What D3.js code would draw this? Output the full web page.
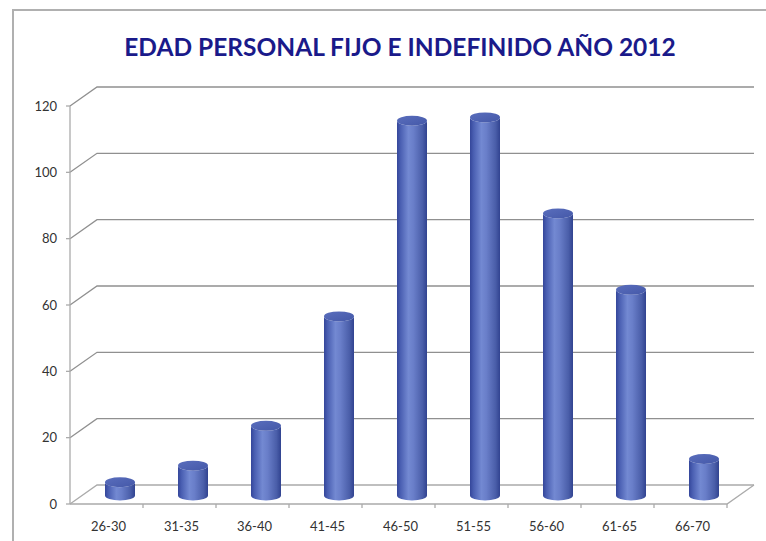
<!DOCTYPE html>
<html>
<head>
<meta charset="utf-8">
<script src="https://cdn.jsdelivr.net/npm/d3@7"></script>
<style>
  html, body { margin: 0; padding: 0; background: #fff; }
  svg { display: block; }
</style>
</head>
<body>
<script>
const categories = ["26-30","31-35","36-40","41-45","46-50","51-55","56-60","61-65","66-70"];
const values = [4, 9, 21, 54, 113, 114, 85, 62, 11];
const yTicks = [0, 20, 40, 60, 80, 100, 120];
const title = "EDAD PERSONAL FIJO E INDEFINIDO AÑO 2012";

const W = 766, H = 541;
const svg = d3.select("body").append("svg").attr("width", W).attr("height", H);

// depth offset for 3D walls
const DX = 27, DY = -19;

const x = d3.scaleBand().domain(categories).range([70, 727]).paddingInner(0).paddingOuter(0);
const y = d3.scaleLinear().domain([0, 120]).range([504, 106]);

// gradient for cylinders
const defs = svg.append("defs");
const g1 = defs.append("linearGradient").attr("id", "cyl").attr("x1", "0").attr("x2", "1").attr("y1", "0").attr("y2", "0");
[[0, "#34469a"], [0.12, "#4a5fb2"], [0.38, "#7389d2"], [0.55, "#697ec9"], [0.85, "#4a5ea9"], [1, "#314390"]]
  .forEach(([o, c]) => g1.append("stop").attr("offset", o).attr("stop-color", c));
const g2 = defs.append("linearGradient").attr("id", "cyltop").attr("x1", "0").attr("x2", "1").attr("y1", "0").attr("y2", "1");
[[0, "#5a6ebd"], [1, "#4458a8"]].forEach(([o, c]) => g2.append("stop").attr("offset", o).attr("stop-color", c));

// outer chart border (left and top)
svg.append("path").attr("d", `M13,${H} L13,10 L${W},10`)
  .attr("fill", "none").attr("stroke", "#b0b0b0").attr("stroke-width", 2);

// title
svg.append("text").text(title)
  .attr("x", 400).attr("y", 56).attr("text-anchor", "middle")
  .attr("font-family", "Lato, 'Open Sans', sans-serif").attr("font-weight", "bold")
  .attr("font-size", 24.5).attr("fill", "#1a1a8a");

const grid = svg.append("g").attr("stroke-width", 1.3).attr("fill", "none");
const x0 = x.range()[0], x1 = x.range()[1];

// back-wall gridlines and side-wall diagonals
yTicks.forEach(t => {
  const yy = y(t);
  grid.append("path").attr("d", `M${x0},${yy} L${x0 + DX},${yy + DY} L${x1 + DX},${yy + DY}`)
    .attr("stroke", t === 0 ? "#ababab" : "#909090");
});

// floor front edge and right diagonal
grid.append("path").attr("d", `M${x0},${y(0)} L${x1},${y(0)} L${x1 + DX},${y(0) + DY}`).attr("stroke", "#ababab");

// y axis line
grid.append("line").attr("x1", x0).attr("x2", x0).attr("y1", y(120)).attr("y2", y(0)).attr("stroke", "#ababab");

// y ticks + labels
const yAxisG = svg.append("g");
yTicks.forEach(t => {
  yAxisG.append("line").attr("x1", x0 - 4).attr("x2", x0).attr("y1", y(t)).attr("y2", y(t))
    .attr("stroke", "#ababab").attr("stroke-width", 1.3);
  yAxisG.append("text").text(t).attr("x", 57).attr("y", y(t) + 4.5).attr("text-anchor", "end")
    .attr("font-family", "Lato, 'Open Sans', sans-serif").attr("font-size", 13).attr("fill", "#333");
});

// x ticks at category boundaries + labels
const xAxisG = svg.append("g");
categories.forEach((c, i) => {
  if (i > 0) {
    const bx = x(c);
    xAxisG.append("line").attr("x1", bx).attr("x2", bx).attr("y1", y(0)).attr("y2", y(0) + 4)
      .attr("stroke", "#ababab").attr("stroke-width", 1.3);
  }
  xAxisG.append("text").text(c).attr("x", x(c) + x.bandwidth() / 2 + 2).attr("y", 531)
    .attr("text-anchor", "middle")
    .attr("font-family", "Lato, 'Open Sans', sans-serif").attr("font-size", 13).attr("fill", "#333");
});
xAxisG.append("line").attr("x1", x1).attr("x2", x1).attr("y1", y(0)).attr("y2", y(0) + 4)
  .attr("stroke", "#ababab").attr("stroke-width", 1.3);

// cylinders
const RX = 15, RY = 5;
const bars = svg.append("g");
categories.forEach((c, i) => {
  const cx = x(c) + x.bandwidth() / 2 + DX / 2;
  const yb = y(0) + DY / 2 + 1;
  const yt = y(values[i]) + DY / 2 + 1;
  const d = `M${cx - RX},${yt} L${cx - RX},${yb} A${RX},${RY} 0 0 0 ${cx + RX},${yb} L${cx + RX},${yt} A${RX},${RY} 0 0 1 ${cx - RX},${yt} Z`;
  bars.append("path").attr("d", d).attr("fill", "url(#cyl)");
  bars.append("ellipse").attr("cx", cx).attr("cy", yt).attr("rx", RX).attr("ry", RY)
    .attr("fill", "url(#cyltop)");
});
</script>
</body>
</html>
